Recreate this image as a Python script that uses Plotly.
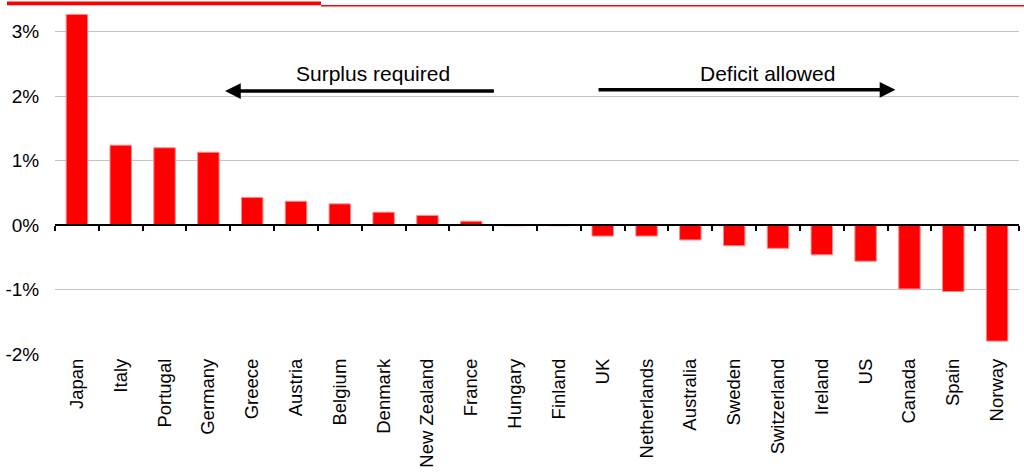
import plotly.graph_objects as go

countries = ["Japan", "Italy", "Portugal", "Germany", "Greece", "Austria", "Belgium",
             "Denmark", "New Zealand", "France", "Hungary", "Finland", "UK", "Netherlands",
             "Australia", "Sweden", "Switzerland", "Ireland", "US", "Canada", "Spain", "Norway"]
values = [3.27, 1.24, 1.20, 1.13, 0.43, 0.37, 0.33, 0.20, 0.15, 0.06, -0.01, -0.01,
          -0.17, -0.17, -0.23, -0.32, -0.36, -0.46, -0.56, -0.99, -1.03, -1.80]
y_tickvals = [-2, -1, 0, 1, 2, 3]
y_ticktext = ["-2%", "-1%", "0%", "1%", "2%", "3%"]

W, H = 1024, 473
Y_MIN, Y_MAX = -2, 3.4
L, R = 55, 5
T, B = 6, 119
plot_w = W - L - R
plot_h = H - T - B

def px_x(px):
    return (px - L) / plot_w

def px_y(py):
    return (H - B - py) / plot_h

FONT = "Liberation Sans, Arial, Helvetica, sans-serif"

fig = go.Figure()
fig.add_trace(go.Bar(
    x=countries, y=values, width=0.49,
    marker=dict(color="#ff0000", line=dict(color="#ff8a8a", width=1)),
    showlegend=False, hoverinfo="x+y",
))
# invisible trace to carry the zero-line axis with category ticks
fig.add_trace(go.Scatter(
    x=countries, y=values, xaxis="x2", mode="markers",
    marker=dict(opacity=0), showlegend=False, hoverinfo="skip",
))

zero_pos = (0 - Y_MIN) / (Y_MAX - Y_MIN)

fig.update_layout(
    width=W, height=H,
    margin=dict(l=L, r=R, t=T, b=B, pad=0, autoexpand=False),
    paper_bgcolor="white", plot_bgcolor="white",
    font=dict(family=FONT, color="black", size=18),
    xaxis=dict(
        type="category", categoryorder="array", categoryarray=countries,
        range=[-0.5, len(countries) - 0.5], automargin=False,
        showgrid=False, showline=False, zeroline=False,
        ticks="", tickangle=-90, tickfont=dict(size=18.5, family=FONT),
    ),
    xaxis2=dict(
        type="category", categoryorder="array", categoryarray=countries,
        range=[-0.5, len(countries) - 0.5], automargin=False,
        overlaying="x", anchor="free", position=zero_pos,
        showgrid=False, zeroline=False, showticklabels=False,
        showline=True, linecolor="black", linewidth=2,
        ticks="outside", tickson="boundaries", ticklen=5, tickwidth=2, tickcolor="black",
    ),
    yaxis=dict(
        range=[Y_MIN, Y_MAX], automargin=False,
        tickvals=y_tickvals, ticktext=y_ticktext,
        showgrid=True, gridcolor="#c4c4c4", gridwidth=1.2,
        zeroline=False, showline=False,
        ticks="outside", ticklen=11, tickcolor="rgba(0,0,0,0)",
        tickfont=dict(size=19, family=FONT),
    ),
    shapes=[
        dict(type="line", xref="paper", yref="paper",
             x0=px_x(7), x1=px_x(321), y0=px_y(3.4), y1=px_y(3.4),
             line=dict(color="#ff0000", width=3.6)),
        dict(type="line", xref="paper", yref="paper",
             x0=px_x(321), x1=px_x(1024), y0=px_y(5.8), y1=px_y(5.8),
             line=dict(color="#ff0000", width=1.6)),
    ],
    annotations=[
        dict(x=3.38, y=2.08, ax=9.55, ay=2.08, xref="x", yref="y", axref="x", ayref="y",
             text="", showarrow=True, arrowhead=2, arrowwidth=3.5, arrowsize=0.9,
             arrowcolor="black"),
        dict(x=18.68, y=2.10, ax=11.87, ay=2.10, xref="x", yref="y", axref="x", ayref="y",
             text="", showarrow=True, arrowhead=2, arrowwidth=3.5, arrowsize=0.9,
             arrowcolor="black"),
        dict(x=6.76, y=2.35, xref="x", yref="y", text="Surplus required", showarrow=False,
             font=dict(size=21, family=FONT, color="black")),
        dict(x=15.77, y=2.36, xref="x", yref="y", text="Deficit allowed", showarrow=False,
             font=dict(size=21, family=FONT, color="black")),
    ],
)

fig.write_html("out.html")
